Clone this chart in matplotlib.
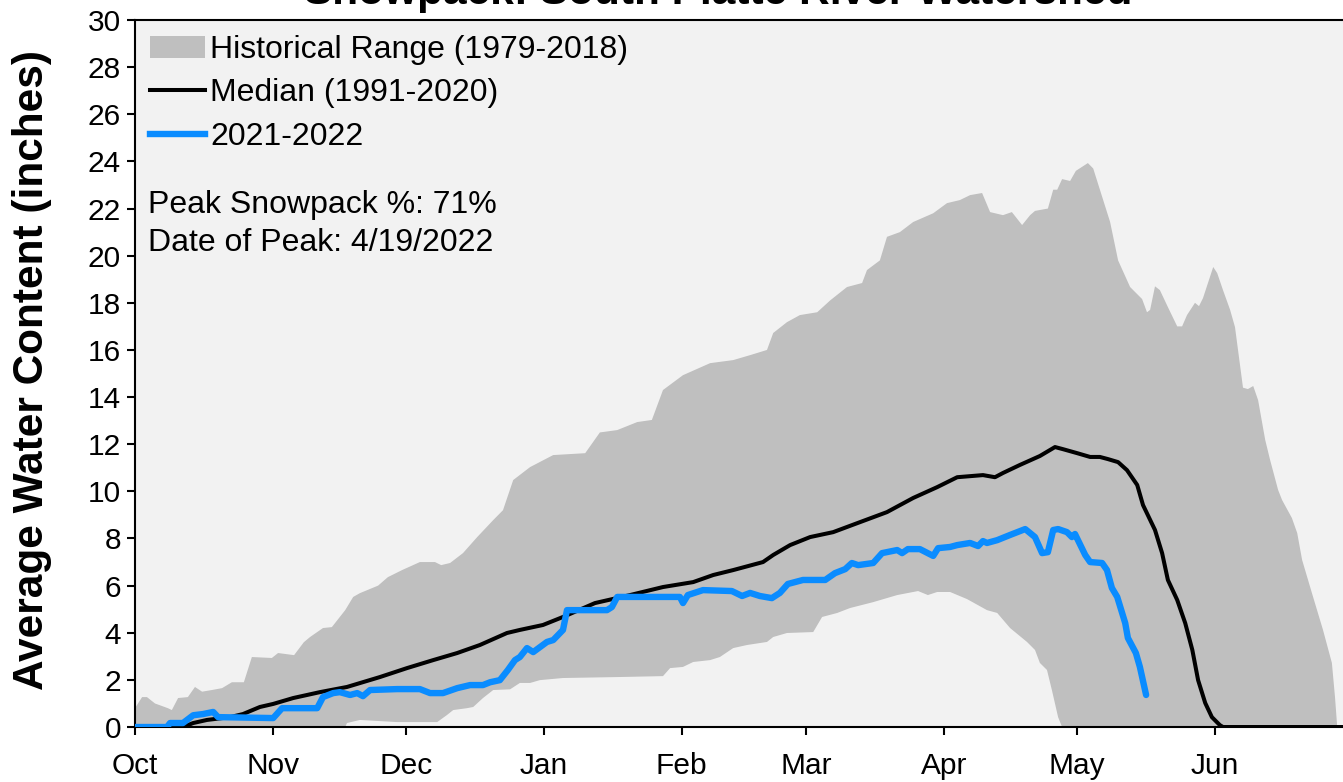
import matplotlib
matplotlib.use("Agg")
import matplotlib.pyplot as plt
from matplotlib.patches import Patch
from matplotlib.lines import Line2D

plt.rcParams['font.family'] = ['Liberation Sans', 'DejaVu Sans']

# days since Oct 1 (2021) and snow water equivalent in inches
month_starts = [0, 31, 61, 92, 123, 151, 182, 212, 243]
month_labels = ['Oct', 'Nov', 'Dec', 'Jan', 'Feb', 'Mar', 'Apr', 'May', 'Jun']

hist_max_days = [0, 1.6, 2.7, 4.5, 7.4, 8.3, 9.7, 11.9, 13.5, 15.1, 17.3, 19.6, 21.8, 24.5,
                 26.3, 30.8, 32.2, 35.8, 38.0, 39.4, 42.3, 44.3, 47.3, 49.1, 50.6, 54.7,
                 56.9, 60.1, 64.1, 67.5, 68.9, 70.9, 73.8, 77.0, 80.6, 82.8, 85.1, 88.9,
                 94.1, 101.3, 104.6, 108.5, 113.0, 116.3, 118.8, 123.3, 129.4, 134.6,
                 138.4, 142.2, 143.6, 146.7, 149.6, 153.5, 156.4, 160.2, 163.6, 164.7,
                 167.6, 169.2, 172.1, 175.1, 179.6, 182.7, 185.6, 187.9, 190.6, 192.4,
                 195.3, 197.3, 199.6, 201.4, 202.5, 205.4, 206.6, 207.5, 208.6, 210.4,
                 211.7, 214.4, 215.6, 219.4, 221.2, 223.9, 226.6, 227.7, 228.4, 229.5,
                 230.6, 232.4, 234.5, 235.6, 236.7, 238.5, 239.4, 240.3, 242.6, 243.5,
                 244.8, 246.4, 247.5, 249.3, 250.4, 251.6, 252.7, 254.3, 255.4, 257.2,
                 258.1, 260.3, 261.5, 262.6, 264.8, 267.3, 269.3, 270.0, 270.5]
hist_max = [0.8, 1.27, 1.27, 1.0, 0.8, 0.72, 1.23, 1.27, 1.7, 1.5, 1.57, 1.65, 1.9, 1.9,
            2.97, 2.93, 3.14, 3.05, 3.6, 3.82, 4.2, 4.24, 4.96, 5.52, 5.68, 6.0,
            6.36, 6.66, 7.0, 7.0, 6.87, 6.96, 7.38, 8.06, 8.78, 9.2, 10.48, 11.03,
            11.54, 11.62, 12.5, 12.6, 12.94, 13.03, 14.3, 14.93, 15.44, 15.57,
            15.78, 16.0, 16.72, 17.18, 17.48, 17.6, 18.1, 18.67, 18.84, 19.39,
            19.8, 20.8, 21.0, 21.43, 21.8, 22.23, 22.36, 22.57, 22.66, 21.85,
            21.72, 21.85, 21.3, 21.72, 21.9, 22.0, 22.8, 22.8, 23.25, 23.17,
            23.6, 23.93, 23.7, 21.43, 19.8, 18.67, 18.16, 17.6, 17.7, 18.7,
            18.54, 17.82, 17.0, 17.0, 17.48, 18.0, 17.86, 18.2, 19.52, 19.26,
            18.54, 17.7, 16.97, 14.4, 14.34, 14.47, 13.87, 12.18, 11.33, 10.06,
            9.63, 8.87, 8.23, 7.09, 5.69, 4.12, 2.72, 1.27, 0.0]

hist_min_days = [0, 47.3, 47.7, 50.6, 59.0, 68.0, 70.2, 71.6, 74.7, 76.1, 78.3, 80.6,
                 84.4, 86.6, 88.9, 91.1, 96.3, 108.5, 118.8, 120.4, 123.3, 125.6,
                 129.4, 131.6, 134.6, 137.7, 142.2, 143.6, 146.7, 152.6, 154.6, 158.0,
                 160.9, 166.1, 171.5, 176.2, 178.4, 180.5, 183.4, 187.2, 191.7, 194.0,
                 196.9, 200.7, 202.5, 203.6, 205.2, 206.3, 207.7, 208.6, 270.5]
hist_min = [0.0, 0.0, 0.17, 0.3, 0.21, 0.21, 0.51, 0.72, 0.8, 0.85, 1.23, 1.57,
            1.6, 1.87, 1.87, 1.99, 2.08, 2.12, 2.16, 2.5, 2.55, 2.76,
            2.84, 2.97, 3.35, 3.48, 3.61, 3.82, 3.99, 4.03, 4.67, 4.84,
            5.05, 5.3, 5.6, 5.77, 5.6, 5.73, 5.73, 5.43, 4.96, 4.84,
            4.2, 3.61, 3.27, 2.72, 2.42, 1.57, 0.42, 0.0, 0.0]

median_days = [0, 10.8, 13.1, 16.2, 21.4, 24.3, 28.1, 31.1, 35.6, 41.6, 47.7, 55.1,
               61.2, 67.1, 72.5, 77.6, 83.7, 86.6, 91.8, 96.3, 103.5, 111.4, 118.8,
               125.6, 130.1, 134.6, 141.3, 143.6, 147.4, 151.9, 157.1, 162.5, 169.2,
               175.1, 180.5, 185.0, 190.8, 193.5, 195.3, 199.1, 203.6, 207.0, 208.8,
               212.0, 214.9, 217.1, 218.9, 221.2, 223.2, 225.5, 226.8, 229.5, 231.1,
               232.4, 234.5, 236.3, 237.9, 239.2, 240.8, 242.3, 244.1, 244.8, 271.8]
median = [0.0, 0.0, 0.17, 0.3, 0.42, 0.55, 0.85, 0.98, 1.23, 1.48, 1.7, 2.12,
          2.5, 2.84, 3.14, 3.48, 3.99, 4.12, 4.33, 4.67, 5.26, 5.6, 5.94,
          6.15, 6.45, 6.66, 7.0, 7.3, 7.72, 8.06, 8.27, 8.65, 9.12,
          9.72, 10.18, 10.6, 10.69, 10.6, 10.78, 11.12, 11.5, 11.88, 11.79,
          11.62, 11.46, 11.46, 11.37, 11.24, 10.9, 10.27, 9.42, 8.36, 7.38,
          6.24, 5.39, 4.41, 3.27, 1.99, 1.02, 0.42, 0.08, 0.0, 0.0]

wy2022_days = [0, 7.2, 7.9, 10.8, 13.1, 15.3, 17.6, 18.7, 31.1, 33.1, 41.0, 42.3, 44.6,
               46.1, 48.4, 50.0, 51.3, 52.9, 59.0, 64.1, 66.4, 69.3, 72.5, 75.4, 78.3,
               79.9, 82.1, 83.9, 85.5, 86.6, 88.2, 89.6, 92.7, 94.1, 96.3, 97.2, 106.2,
               107.3, 108.5, 122.6, 123.3, 124.4, 127.8, 134.3, 136.6, 138.4, 140.6,
               143.3, 145.1, 146.9, 150.3, 155.3, 157.5, 159.8, 161.3, 162.7, 166.1,
               168.1, 171.5, 172.6, 173.9, 176.6, 179.6, 180.7, 183.4, 185.0, 187.9,
               189.7, 190.8, 191.7, 194.0, 196.9, 200.3, 202.5, 204.1, 205.4, 206.6,
               207.7, 209.7, 210.8, 211.5, 213.8, 214.9, 217.6, 218.7, 219.8, 221.0,
               222.8, 223.4, 225.2, 226.1, 227.5]
wy2022 = [0.0, 0.0, 0.17, 0.17, 0.5, 0.55, 0.64, 0.42, 0.38, 0.8, 0.8, 1.27, 1.44,
          1.48, 1.36, 1.44, 1.31, 1.57, 1.61, 1.61, 1.44, 1.44, 1.65, 1.78, 1.78,
          1.9, 1.99, 2.42, 2.84, 2.97, 3.35, 3.18, 3.61, 3.69, 4.12, 4.96, 4.96,
          5.09, 5.52, 5.52, 5.26, 5.6, 5.81, 5.77, 5.56, 5.69, 5.56,
          5.47, 5.69, 6.07, 6.24, 6.24, 6.53, 6.7, 6.96, 6.87, 6.96,
          7.38, 7.51, 7.38, 7.55, 7.55, 7.26, 7.59, 7.64, 7.72, 7.81,
          7.68, 7.89, 7.81, 7.93, 8.15, 8.4, 8.06, 7.38, 7.42, 8.36,
          8.4, 8.27, 8.06, 8.19, 7.3, 7.0, 6.96, 6.66, 5.9, 5.52,
          4.41, 3.78, 3.14, 2.55, 1.36]

peak_pct = 71
peak_date = '4/19/2022'

fig = plt.figure(figsize=(13.43, 7.82), dpi=100)
ax = fig.add_axes([0.1005, 0.0703, 0.8995, 0.9041])
ax.set_facecolor('#f2f2f2')

# historical range polygon: max going right, min coming back
poly_x = hist_max_days + hist_min_days[::-1]
poly_y = hist_max + hist_min[::-1]
ax.fill(poly_x, poly_y, color='#bfbfbf', lw=0, zorder=1)

ax.plot(median_days, median, color='black', lw=2.9, zorder=2)
ax.plot(wy2022_days, wy2022, color='#0a8cff', lw=4.6, solid_capstyle='round', zorder=3)

ax.set_xlim(0, 271.8)
ax.set_ylim(0, 30)
ax.set_xticks(month_starts)
ax.set_xticklabels(month_labels)
ax.set_yticks(range(0, 31, 2))
ax.tick_params(axis='both', labelsize=21.5, length=6, width=1.5, direction='out')
ax.tick_params(axis='x', pad=12)
ax.tick_params(axis='y', pad=4)
for s in ['left', 'bottom', 'top']:
    ax.spines[s].set_linewidth(1.5)
ax.spines['right'].set_visible(False)

handles = [Patch(facecolor='#bfbfbf', edgecolor='none'),
           Line2D([], [], color='black', lw=2.9),
           Line2D([], [], color='#0a8cff', lw=4.6)]
labels = ['Historical Range (1979-2018)', 'Median (1991-2020)', '2021-2022']
ax.legend(handles, labels, loc='upper left', bbox_to_anchor=(0.0124, 0.979),
          frameon=False, fontsize=23, borderpad=0, borderaxespad=0,
          handlelength=1.72, handletextpad=0.17, labelspacing=0.42)

ax.text(0.0108, 0.738, f'Peak Snowpack %: {peak_pct}%', transform=ax.transAxes,
        fontsize=23, va='center', ha='left')
ax.text(0.0108, 0.684, f'Date of Peak: {peak_date}', transform=ax.transAxes,
        fontsize=23, va='center', ha='left')

fig.text(0.0238, 0.527, 'Average Water Content (inches)', rotation=90,
         fontsize=30.5, fontweight='bold', ha='center', va='center')
fig.text(0.5346, 0.995, 'Snowpack: South Platte River Watershed',
         fontsize=30.5, fontweight='bold', ha='center', va='baseline')

fig.savefig('out.png', dpi=100)
